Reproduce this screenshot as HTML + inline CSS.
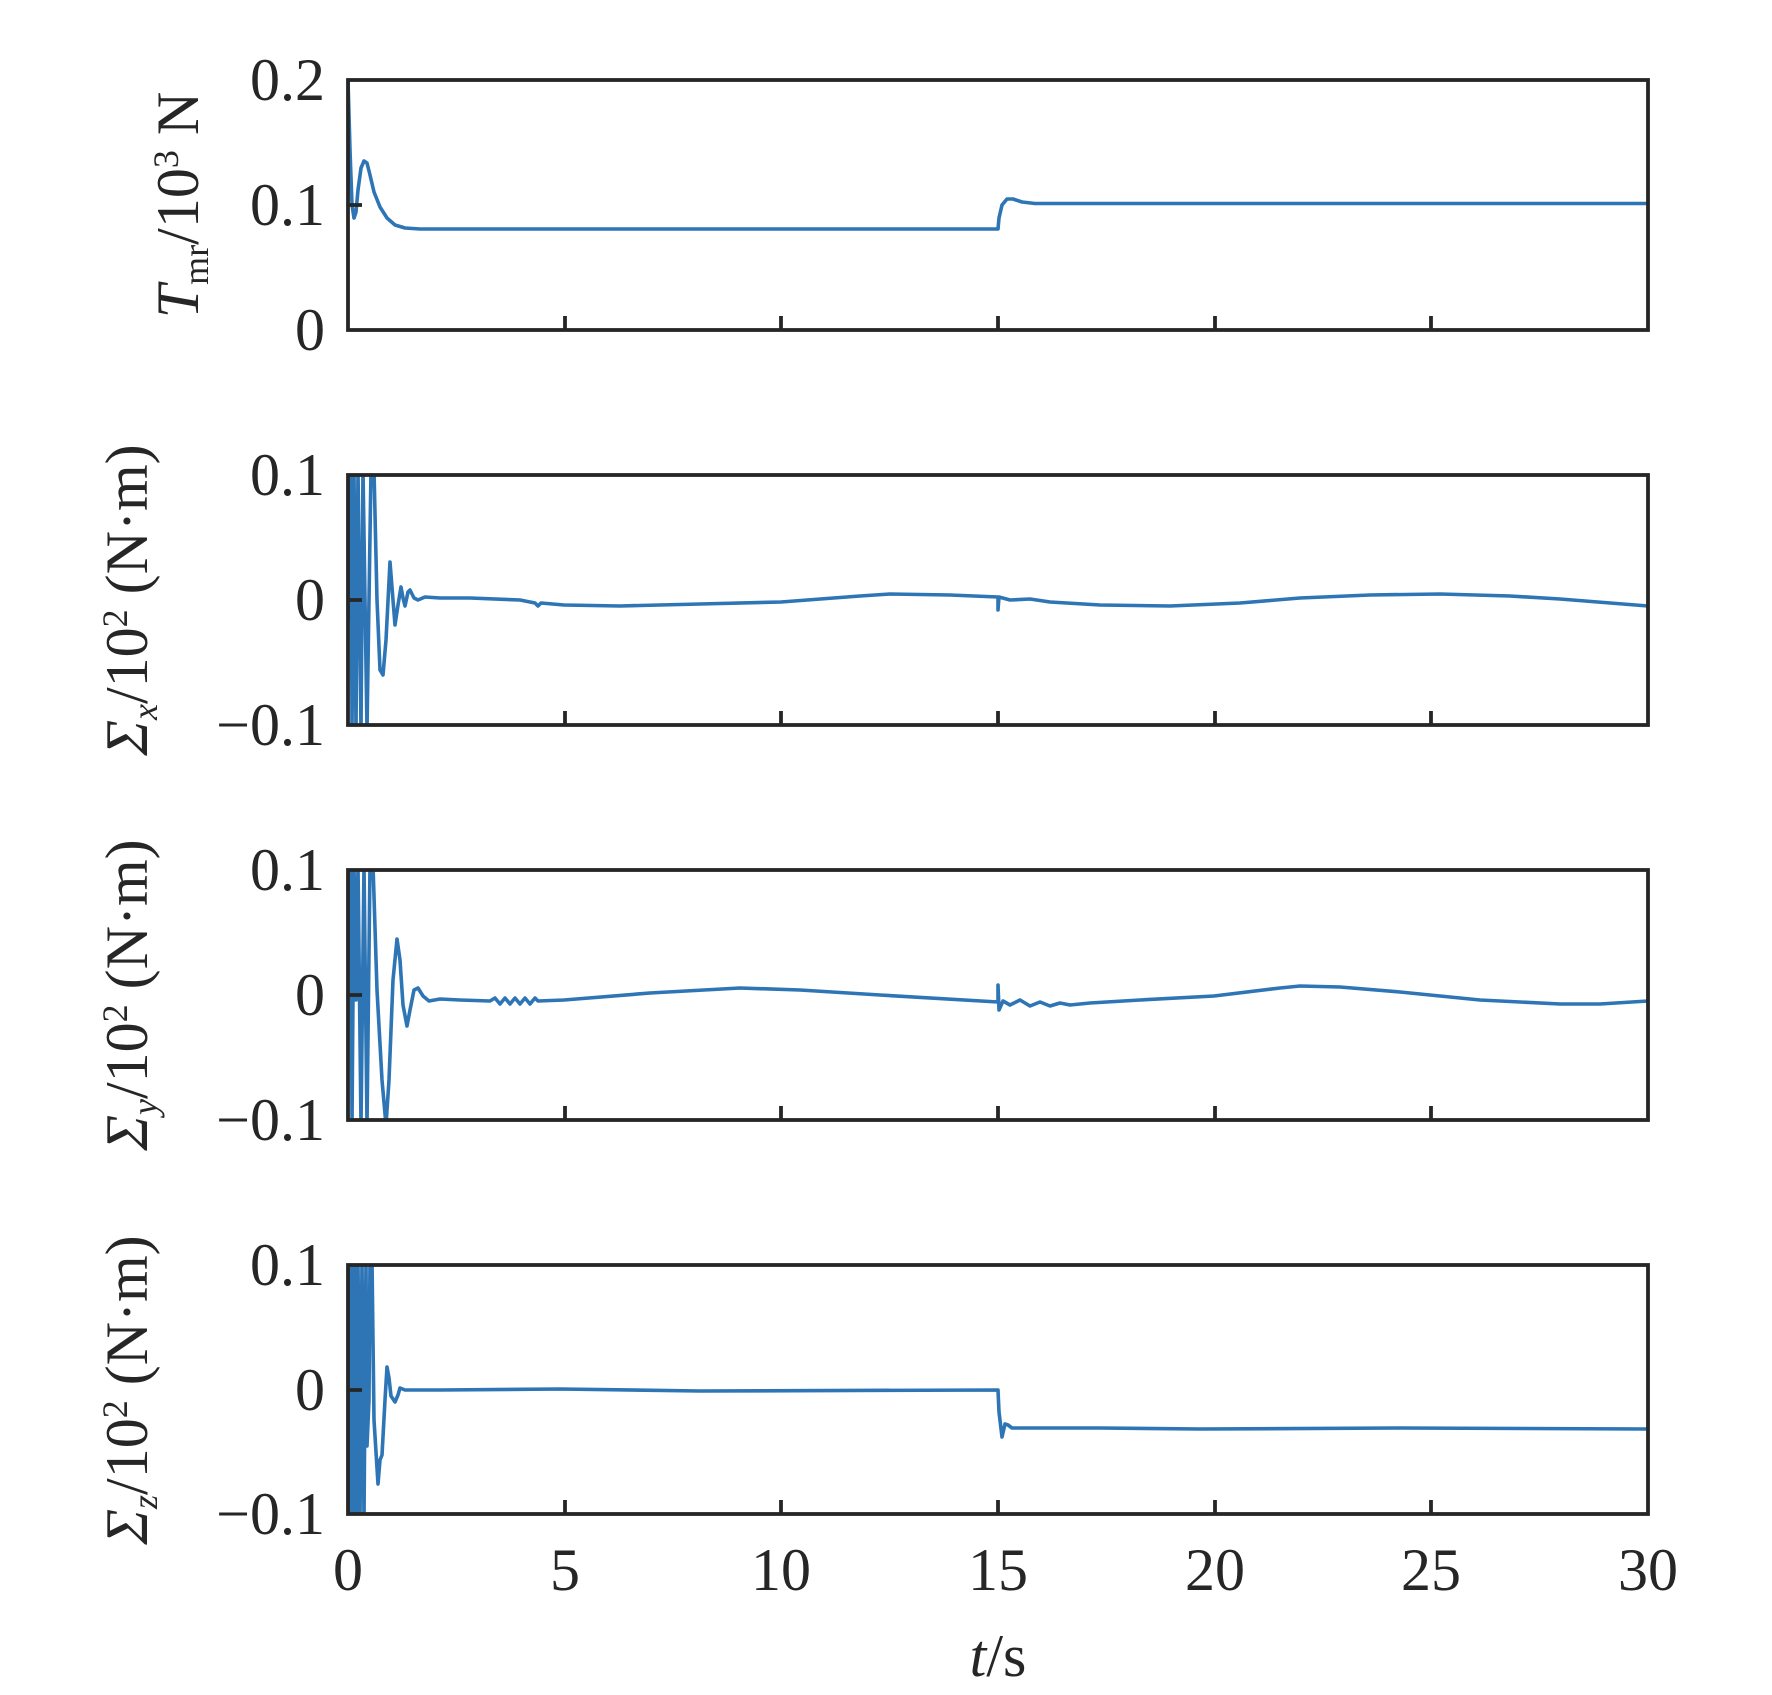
<!DOCTYPE html>
<html><head><meta charset="utf-8"><style>
html,body{margin:0;padding:0;background:#fff}
svg{display:block}
text{font-family:"Liberation Serif","Times New Roman",serif;fill:#262626}
</style></head><body>
<svg width="1772" height="1695" viewBox="0 0 1772 1695" xmlns="http://www.w3.org/2000/svg">
<defs>
<clipPath id="c1"><rect x="348" y="80" width="1300" height="250"/></clipPath>
<clipPath id="c2"><rect x="348" y="475" width="1300" height="250"/></clipPath>
<clipPath id="c3"><rect x="348" y="870" width="1300" height="250"/></clipPath>
<clipPath id="c4"><rect x="348" y="1265" width="1300" height="249"/></clipPath>
</defs>
<g fill="none" stroke="#2e75b6" stroke-width="3.6" stroke-linejoin="round">
<path clip-path="url(#c1)" d="M348,80 L350,150 L352,205 L354,218 L356,212 L358,190 L361,168 L364,161 L367,163 L370,175 L374,192 L380,207 L387,218 L395,225 L405,228 L420,229 L998,229 L999,218 L1002,205 L1007,199 L1013,199 L1022,202 L1035,203.5 L1648,203.5"/>
<path clip-path="url(#c2)" d="M348,610 L350,620 L351,470 L352,730 L354,470 L356,730 L358,470 L361,730 L363,470 L367,730 L371,470 L374,470 L377,600 L380,670 L383,675 L386,640 L390,562 L393,600 L395,625 L398,605 L401,587 L403,598 L405,606 L408,592 L410,590 L414,598 L418,600 L425,597 L440,598 L470,598 L520,600 L535,603 L538,606 L541,603 L564,605 L620,606 L700,604 L781,602 L860,596 L890,594 L950,595 L998,597 L998,610 L999,597 L1010,600 L1030,599 L1050,602 L1100,605 L1170,606 L1240,603 L1300,598 L1370,595 L1440,594 L1510,596 L1560,599 L1648,606"/>
<path clip-path="url(#c3)" d="M348,960 L350,930 L351,865 L352,1125 L354,865 L356,1000 L358,865 L361,1125 L364,865 L367,1125 L370,865 L373,865 L377,990 L382,1080 L386,1125 L389,1080 L393,980 L397,939 L400,960 L403,1005 L407,1026 L410,1010 L414,990 L418,988 L423,996 L429,1001 L440,999 L460,1000 L490,1001 L495,998 L500,1004 L505,998 L510,1004 L515,998 L520,1004 L525,998 L530,1004 L535,998 L538,1001 L564,1000 L650,993 L740,988 L800,990 L880,995 L998,1002 L998,985 L999,1010 L1003,1001 L1010,1005 L1020,1000 L1030,1006 L1040,1002 L1050,1006 L1060,1003 L1070,1005 L1090,1003 L1140,1000 L1214,996 L1280,988 L1300,986 L1340,987 L1400,992 L1480,1000 L1560,1004 L1600,1004 L1648,1001"/>
<path clip-path="url(#c4)" d="M348,1390 L349,1260 L350,1520 L351,1260 L352,1520 L353,1260 L354,1520 L355,1260 L357,1520 L358,1260 L360,1520 L362,1260 L364,1520 L366,1260 L367,1446 L369,1400 L370,1260 L372,1260 L374,1420 L378,1484 L380,1460 L382,1455 L385,1400 L387,1367 L389,1378 L391,1396 L395,1402 L398,1395 L400,1388 L405,1390 L440,1390 L560,1389 L700,1391 L998,1390 L999,1412 L1002,1437 L1005,1424 L1008,1425 L1012,1428 L1100,1428 L1200,1429 L1400,1428 L1648,1429"/>
</g>
<g fill="none" stroke="#262626" stroke-width="3.8">
<rect x="348" y="80" width="1300" height="250"/>
<rect x="348" y="475" width="1300" height="250"/>
<rect x="348" y="870" width="1300" height="250"/>
<rect x="348" y="1265" width="1300" height="249"/>
<path d="M348,205 h14 M348,600 h14 M348,995 h14 M348,1390 h14"/>
<path d="M565,330 v-14 M781,330 v-14 M998,330 v-14 M1215,330 v-14 M1431,330 v-14
M565,725 v-14 M781,725 v-14 M998,725 v-14 M1215,725 v-14 M1431,725 v-14
M565,1120 v-14 M781,1120 v-14 M998,1120 v-14 M1215,1120 v-14 M1431,1120 v-14
M565,1514 v-14 M781,1514 v-14 M998,1514 v-14 M1215,1514 v-14 M1431,1514 v-14"/>
</g>
<g font-size="60" text-anchor="end">
<text x="325" y="100">0.2</text>
<text x="325" y="225">0.1</text>
<text x="325" y="350">0</text>
<text x="325" y="495">0.1</text>
<text x="325" y="620">0</text>
<text x="325" y="745">−0.1</text>
<text x="325" y="890">0.1</text>
<text x="325" y="1015">0</text>
<text x="325" y="1140">−0.1</text>
<text x="325" y="1285">0.1</text>
<text x="325" y="1410">0</text>
<text x="325" y="1534">−0.1</text>
</g>
<g font-size="60" text-anchor="middle">
<text x="348" y="1590">0</text>
<text x="565" y="1590">5</text>
<text x="781" y="1590">10</text>
<text x="998" y="1590">15</text>
<text x="1215" y="1590">20</text>
<text x="1431" y="1590">25</text>
<text x="1648" y="1590">30</text>
<text x="998" y="1676"><tspan font-style="italic">t</tspan>/s</text>
</g>
<g font-size="60" text-anchor="middle">
<text transform="translate(198,205) rotate(-90)"><tspan font-style="italic">T</tspan><tspan font-size="36" dy="10">mr</tspan><tspan dy="-10">/10</tspan><tspan font-size="36" dy="-20">3</tspan><tspan dy="20"> N</tspan></text>
<text transform="translate(147,600) rotate(-90)"><tspan font-style="italic">Σ</tspan><tspan font-style="italic" font-size="36" dy="10">x</tspan><tspan dy="-10">/10</tspan><tspan font-size="36" dy="-20">2</tspan><tspan dy="20"> (N·m)</tspan></text>
<text transform="translate(147,995) rotate(-90)"><tspan font-style="italic">Σ</tspan><tspan font-style="italic" font-size="36" dy="10">y</tspan><tspan dy="-10">/10</tspan><tspan font-size="36" dy="-20">2</tspan><tspan dy="20"> (N·m)</tspan></text>
<text transform="translate(147,1390) rotate(-90)"><tspan font-style="italic">Σ</tspan><tspan font-style="italic" font-size="36" dy="10">z</tspan><tspan dy="-10">/10</tspan><tspan font-size="36" dy="-20">2</tspan><tspan dy="20"> (N·m)</tspan></text>
</g>
</svg>
</body></html>
